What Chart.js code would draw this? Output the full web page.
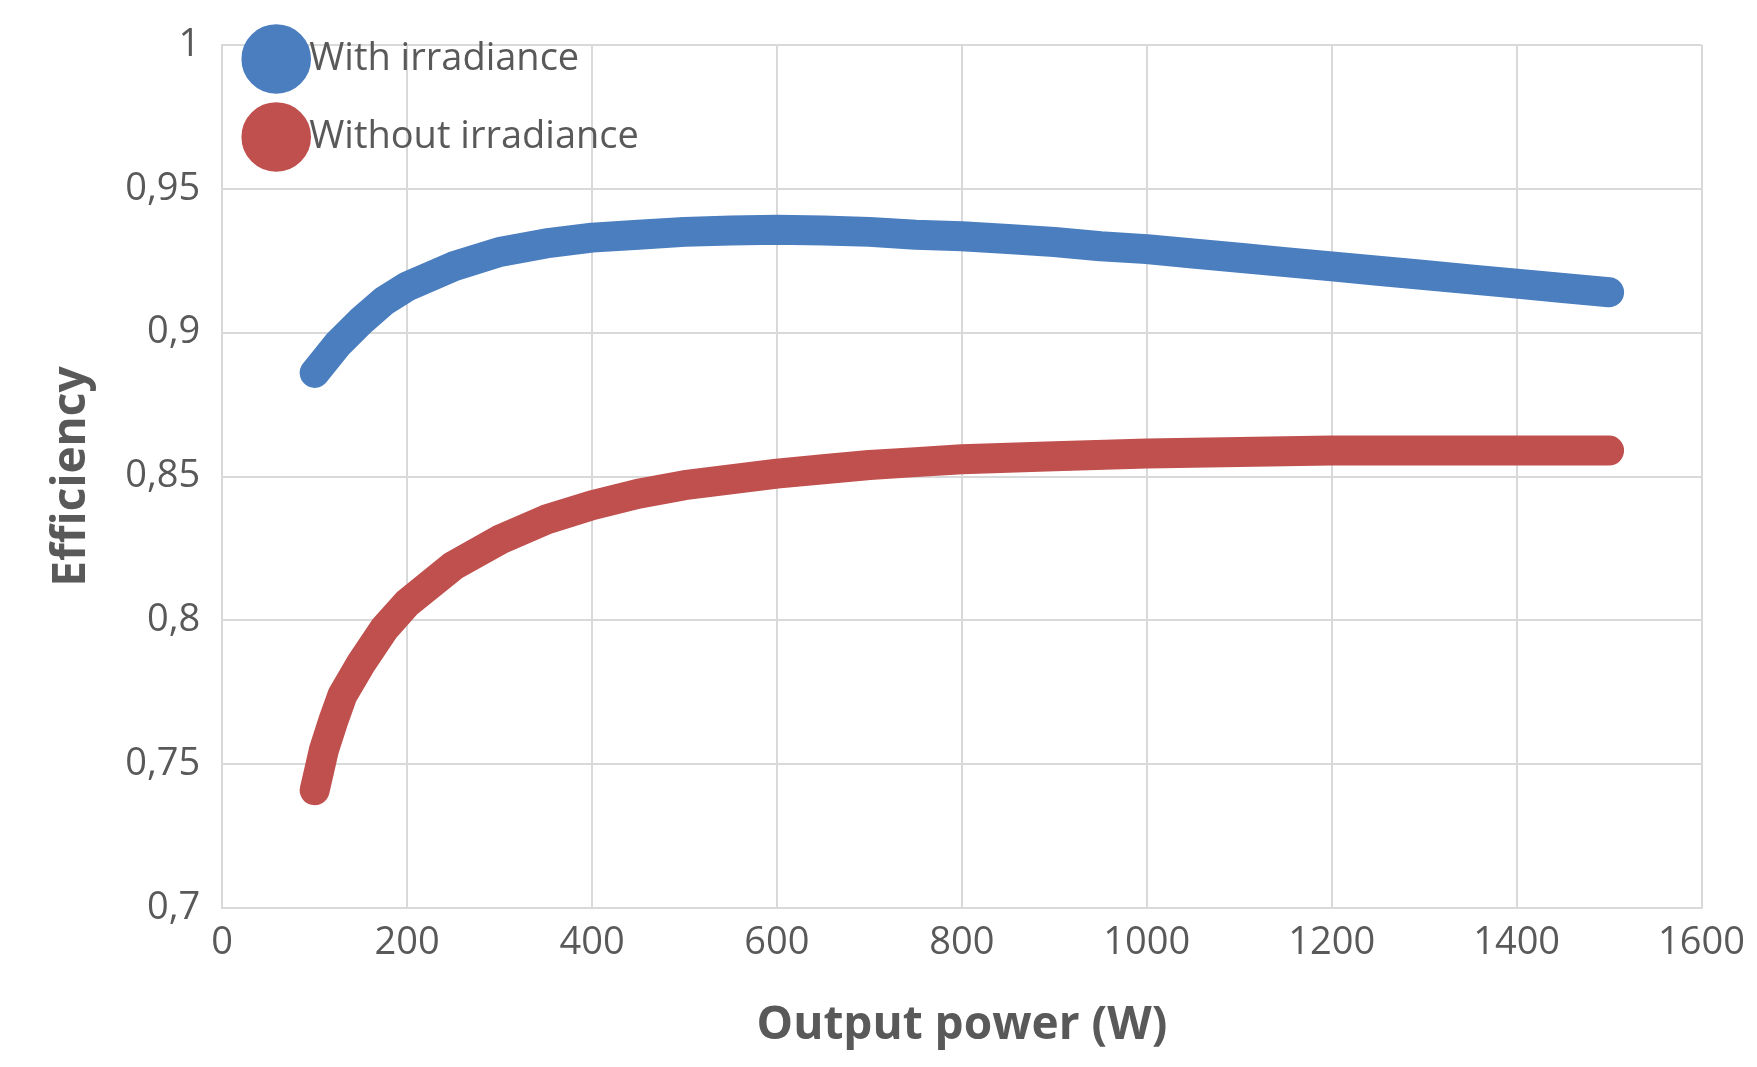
<!DOCTYPE html>
<html><head><meta charset="utf-8">
<script src="https://cdn.jsdelivr.net/npm/chart.js@4"></script>
<style>html,body{margin:0;background:#fff}#wrap{width:1757px;height:1067px}</style>
</head><body><div id="wrap"><canvas id="c"></canvas></div>
<script>
var withX = [100,110,125,150,175,200,250,300,350,400,450,500,550,600,650,700,750,800,850,900,950,1000,1050,1100,1150,1200,1250,1300,1350,1400,1450,1500];
var withY = [0.886,0.890,0.896,0.904,0.911,0.916,0.923,0.928,0.931,0.933,0.934,0.935,0.9355,0.9357,0.9355,0.935,0.934,0.9335,0.9325,0.9315,0.930,0.929,0.9275,0.926,0.9245,0.923,0.9215,0.920,0.9185,0.917,0.9155,0.914];
var withoutX = [100,105,110,120,130,150,175,200,250,300,350,400,450,500,550,600,650,700,750,800,900,1000,1100,1200,1300,1400,1500];
var withoutY = [0.741,0.748,0.755,0.765,0.774,0.785,0.797,0.806,0.819,0.828,0.835,0.840,0.844,0.847,0.849,0.851,0.8525,0.854,0.855,0.856,0.857,0.858,0.8585,0.859,0.859,0.859,0.859];

function pts(xs, ys) { return xs.map(function(x, i) { return {x: x, y: ys[i]}; }); }
var gray = '#595959';
var font = 'Open Sans, Liberation Sans, sans-serif';

// push the in-plot legend to the right edge of the chart area
var legendRight = {
    id: 'legendRight',
    afterLayout: function(chart) {
        var lg = chart.legend;
        if (!lg || !lg.legendHitBoxes) return;
        var w = 0;
        lg.legendHitBoxes.forEach(function(b) { w = Math.max(w, b.width); });
        var dx = chart.chartArea.right - 4 - w - lg.legendHitBoxes[0].left;
        lg.legendHitBoxes.forEach(function(b) { b.left += dx; b.top += 8; });
    }
};

new Chart(document.getElementById('c'), {
    type: 'scatter',
    data: {
        datasets: [{
            label: 'With irradiance',
            data: pts(withX, withY),
            showLine: true, borderColor: '#4a7ebf', backgroundColor: '#4a7ebf',
            borderWidth: 30, borderCapStyle: 'round', borderJoinStyle: 'round', pointRadius: 0
        }, {
            label: 'Without irradiance',
            data: pts(withoutX, withoutY),
            showLine: true, borderColor: '#c0504d', backgroundColor: '#c0504d',
            borderWidth: 30, borderCapStyle: 'round', borderJoinStyle: 'round', pointRadius: 0
        }]
    },
    options: {
        responsive: true, maintainAspectRatio: false, animation: false,
        layout: {padding: {top: 28, right: 30, left: 40, bottom: 10}},
        plugins: {
            legend: {
                position: 'chartArea', align: 'start',
                labels: {usePointStyle: true, pointStyle: 'circle', boxWidth: 28, boxHeight: 28,
                    color: gray, font: {family: font, size: 38}, padding: 40}
            },
            tooltip: {enabled: false}
        },
        scales: {
            x: {
                type: 'linear', min: 0, max: 1600,
                ticks: {stepSize: 200, color: gray, font: {family: font, size: 38}, padding: 12,
                    callback: function(v) { return String(v); }},
                grid: {color: '#d9d9d9', lineWidth: 2, drawTicks: false},
                border: {color: '#d9d9d9', width: 2},
                title: {display: true, text: 'Output power (W)', color: gray,
                    font: {family: font, size: 46, weight: 'bold'}, padding: {top: 20}}
            },
            y: {
                min: 0.7, max: 1,
                ticks: {stepSize: 0.05, color: gray, font: {family: font, size: 38}, padding: 22,
                    callback: function(v) { return String(+v.toFixed(2)).replace('.', ','); }},
                grid: {color: '#d9d9d9', lineWidth: 2, drawTicks: false},
                border: {color: '#d9d9d9', width: 2},
                title: {display: true, text: 'Efficiency', color: gray,
                    font: {family: font, size: 46, weight: 'bold'}}
            }
        }
    },
    plugins: [legendRight]
});
</script></body></html>
